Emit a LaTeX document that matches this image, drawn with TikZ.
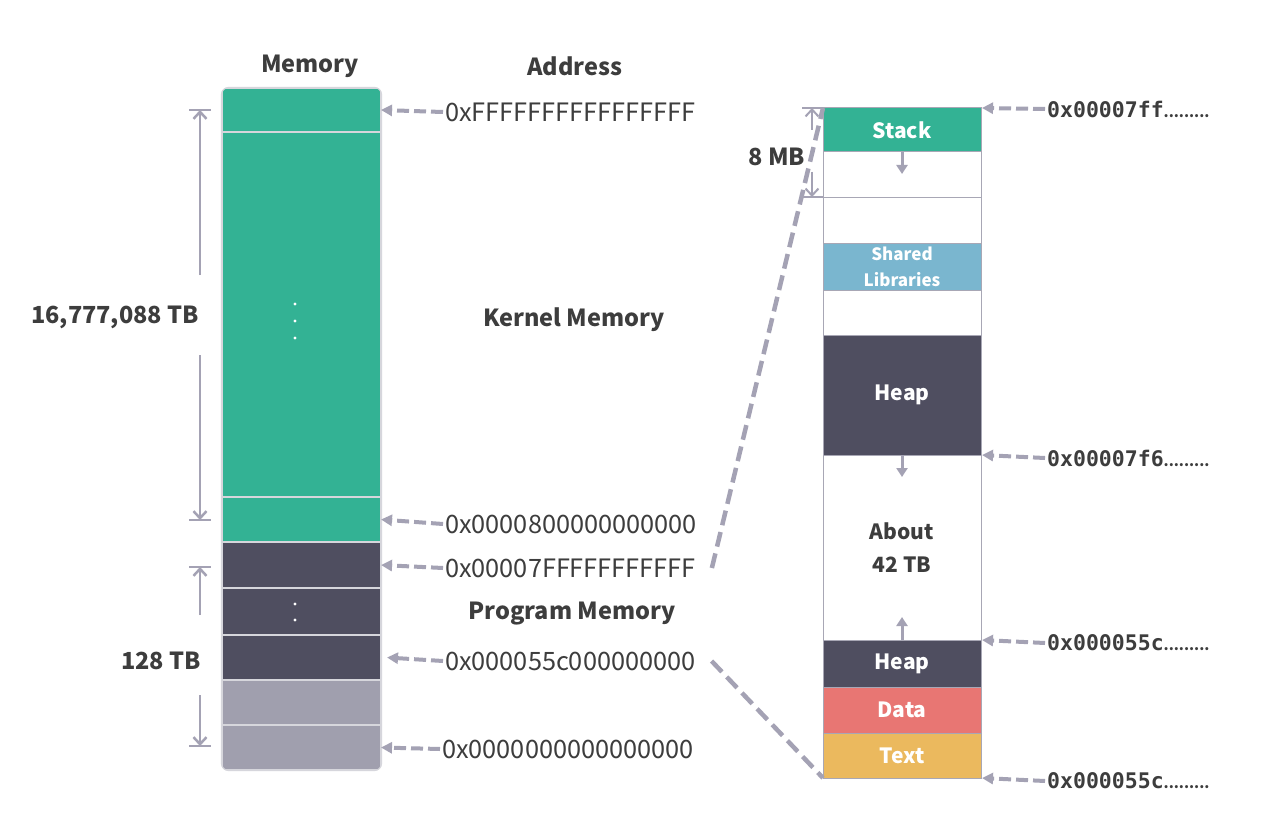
\documentclass[tikz,border=0pt]{standalone}
\usepackage{fontspec}
\setmainfont{Noto Sans CJK KR}
\newfontfamily\monof{DejaVu Sans Mono}
\usetikzlibrary{arrows.meta}
\definecolor{grn}{HTML}{33B294}
\definecolor{drk}{HTML}{4F4E60}
\definecolor{gry}{HTML}{A09FAE}
\definecolor{blu}{HTML}{7AB6CF}
\definecolor{red1}{HTML}{E87673}
\definecolor{yel}{HTML}{EBB95E}
\definecolor{arr}{HTML}{A4A2B4}
\definecolor{txt}{HTML}{3D3D3D}
\definecolor{sepc}{HTML}{D6D6DC}
\definecolor{rbord}{HTML}{A8A7B5}
\newcommand\trail{{\normalfont\bfseries\fontsize{14.5}{16}\selectfont .........}}
\tikzset{
  blk/.style={draw=sepc, line width=1.2pt, minimum width=159pt, inner sep=0pt, outer sep=0pt},
  rblk/.style={draw=rbord, line width=1pt, minimum width=158pt, inner sep=0pt, outer sep=0pt, text=white, font=\bfseries\fontsize{21}{24}\selectfont},
  ptr/.style={draw=arr, line width=4pt, dash pattern=on 12pt off 5pt, -{Triangle[length=11pt,width=11pt]}},
  dimarrow/.style={draw=arr, line width=2.5pt, -{Straight Barb[length=7pt,width=13pt]}},
  tickline/.style={draw=arr, line width=2.5pt},
  inarrow/.style={draw=arr, line width=3pt, -{Triangle[length=9pt,width=11pt]}},
  zoomline/.style={draw=arr, line width=4.5pt, dash pattern=on 15pt off 7pt},
  hexl/.style={anchor=west, text=txt, font=\fontsize{25.3}{28}\selectfont, inner sep=2pt},
  monol/.style={anchor=west, text=txt, font=\monof\bfseries\fontsize{21.5}{23}\selectfont, inner sep=2pt},
  head/.style={text=txt, font=\bfseries\fontsize{23.5}{27}\selectfont},
  dotw/.style={fill=white},
}
\begin{document}
\begin{tikzpicture}[x=1pt,y=-1pt]
\useasboundingbox (0,0) rectangle (1280,832);
\fill[white] (0,0) rectangle (1280,832);

% headers
\node[head] (hmem) at (310,66) {Memory};
\node[head] (hadr) at (575,66) {Address};
\node[head] (kmem) at (574,320) {Kernel Memory};
\node[head] (pmem) at (572,614) {Program Memory};

% left column
\begin{scope}
\clip[rounded corners=7pt] (221.5,87.5) rectangle (381.5,770.5);
\node[blk, fill=grn, minimum height=44pt] (k0) at (301.5,110) {};
\node[blk, fill=grn, minimum height=365pt] (k1) at (301.5,314.5) {};
\node[blk, fill=grn, minimum height=45pt] (k2) at (301.5,519.5) {};
\node[blk, fill=drk, minimum height=46pt] (p1) at (301.5,565) {};
\node[blk, fill=drk, minimum height=47pt] (p2) at (301.5,611.5) {};
\node[blk, fill=drk, minimum height=45pt] (p3) at (301.5,657.5) {};
\node[blk, fill=gry, minimum height=45pt] (g1) at (301.5,702.5) {};
\node[blk, fill=gry, minimum height=45pt] (g2) at (301.5,747.5) {};
\end{scope}
\draw[sepc, line width=1.2pt, rounded corners=7pt] (221.5,87.5) rectangle (381.5,770.5);
\fill[dotw] (295,304) circle (1.6pt) (295,321) circle (1.6pt) (295,338) circle (1.6pt);
\fill[dotw] (295,604) circle (1.6pt) (295,620) circle (1.6pt);

% left address labels
\node[hexl] (a1) at (443,112) {0xFFFFFFFFFFFFFFFF};
\node[hexl] (a2) at (443,524) {0x0000800000000000};
\node[hexl] (a3) at (443,568) {0x00007FFFFFFFFFFF};
\node[hexl] (a4) at (443,661) {0x000055c000000000};
\node[hexl] (a5) at (440,749) {0x0000000000000000};
\draw[ptr] (a1.west) -- (k0.east);
\draw[ptr] (a2.west) -- (k2.east);
\draw[ptr] (a3.west) -- (p1.east);
\draw[ptr] (a4.west) -- ([xshift=6pt]p3.east);
\draw[ptr] (a5.west) -- (g2.east);

% left dimensions
\node[head] (d1) at (115,317) {16,777,088 TB};
\node[head] (d2) at (161,661) {128 TB};
\coordinate (t1) at (200,110);
\coordinate (t2) at (200,520);
\coordinate (t3) at (200,567);
\coordinate (t4) at (200,746);
\draw[tickline] (189,110) -- (211,110);
\draw[tickline] (189,520) -- (211,520);
\draw[tickline] (189,567) -- (211,567);
\draw[tickline] (189,746) -- (211,746);
\draw[dimarrow] (200,275) -- (t1);
\draw[dimarrow] (200,355) -- (t2);
\draw[dimarrow] (200,615) -- (t3);
\draw[dimarrow] (200,695) -- (t4);

% right column
\node[rblk, fill=grn, minimum height=44pt] (s1) at (902,130) {Stack};
\node[rblk, fill=white, minimum height=45pt] (w1) at (902,174.5) {};
\node[rblk, fill=white, minimum height=46pt] (w2) at (902,220) {};
\node[rblk, fill=blu, minimum height=47pt, align=center, font=\bfseries\fontsize{17}{26}\selectfont] (sl) at (902,266.5) {Shared\\Libraries};
\node[rblk, fill=white, minimum height=45pt] (w3) at (902,312.5) {};
\node[rblk, fill=drk, minimum height=120pt] (hp) at (902,395) {Heap};
\node[rblk, fill=white, minimum height=185pt, text=txt, align=center, font=\bfseries\fontsize{21}{33}\selectfont] (w4) at (902,547.5) {About\\42 TB};
\node[rblk, fill=drk, minimum height=47pt] (h2) at (902,663.5) {Heap};
\node[rblk, fill=red1, minimum height=46pt] (da) at (902,710) {Data};
\node[rblk, fill=yel, minimum height=45pt] (tx) at (902,755.5) {Text};

\draw[inarrow] (s1.south) -- ++(0,22);
\draw[inarrow] (hp.south) -- ++(0,22);
\draw[inarrow] (h2.north) -- ++(0,-23);

% right address labels
\node[monol] (r1) at (1045,109) {0x00007ff\trail};
\node[monol] (r2) at (1045,458) {0x00007f6\trail};
\node[monol] (r3) at (1045,643) {0x000055c\trail};
\node[monol] (r4) at (1045,781) {0x000055c\trail};
\draw[ptr] (r1.west) -- ([xshift=1pt]s1.north east);
\draw[ptr] (r2.west) -- ([xshift=1pt]hp.south east);
\draw[ptr] (r3.west) -- ([xshift=1pt]h2.north east);
\draw[ptr] (r4.west) -- ([xshift=1pt]tx.south east);

% 8 MB dimension
\node[head] (d3) at (777,157) {8 MB};
\coordinate (t5) at (812,108);
\coordinate (t6) at (812,197);
\draw[tickline, line width=1.5pt] (802,108) -- (823,108);
\draw[tickline, line width=1.5pt] (802,197) -- (823,197);
\draw[dimarrow, line width=2pt] (812,130) -- (t5);
\draw[dimarrow, line width=2pt] (812,172) -- (t6);

% zoom lines
\draw[zoomline] ([xshift=14pt]a3.east) -- (s1.north west);
\draw[zoomline] ([xshift=14pt]a4.east) -- (tx.south west);
\end{tikzpicture}
\end{document}
